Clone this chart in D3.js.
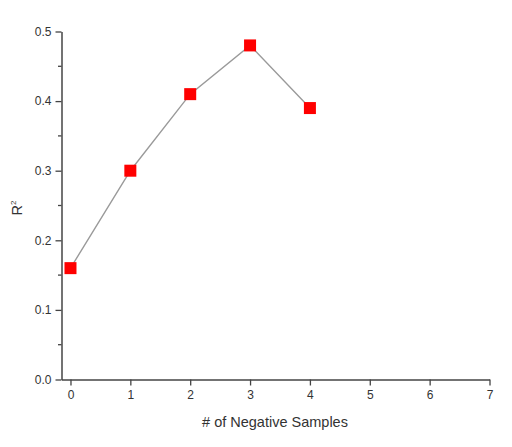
<meta charset="utf-8">
<title>R2 vs negative samples</title>
<script src="https://d3js.org/d3.v7.min.js"></script>
<style>
  body { margin: 0; background: #fff; }
  svg text { font-family: Arial, "Liberation Sans", sans-serif; fill: #333; }
</style>
<body>
<svg width="512" height="447"></svg>
<script>
  const samples = [0, 1, 2, 3, 4]
  const r2 = [0.16, 0.30, 0.41, 0.48, 0.39]
  const xTicks = [0, 1, 2, 3, 4, 5, 6, 7]
  const yTicks = [0.0, 0.1, 0.2, 0.3, 0.4, 0.5]
  const yMinor = [0.05, 0.15, 0.25, 0.35, 0.45]

  const svg = d3.select('svg')
  const x = d3.scaleLinear().domain([-0.15, 7]).range([61.5, 489.5])
  const y = d3.scaleLinear().domain([0, 0.5]).range([379.5, 31.5])

  const axisColor = '#444'

  // x axis
  const gx = svg.append('g').attr('transform', 'translate(0,379.5)')
    .call(d3.axisBottom(x).tickValues(xTicks).tickSize(6).tickPadding(5).tickSizeOuter(0).tickFormat(d3.format('d')))
  gx.select('.domain').attr('stroke', axisColor).attr('stroke-width', 1.5)
  gx.selectAll('.tick line').attr('stroke', axisColor).attr('stroke-width', 1.3)
  gx.selectAll('.tick text').attr('font-size', 12).attr('fill', '#333')

  // y axis
  const gy = svg.append('g').attr('transform', 'translate(61.5,0)')
    .call(d3.axisLeft(y).tickValues(yTicks).tickSize(6).tickPadding(4).tickSizeOuter(0).tickFormat(d3.format('.1f')))
  gy.select('.domain').attr('stroke', axisColor).attr('stroke-width', 1.5)
  gy.selectAll('.tick line').attr('stroke', axisColor).attr('stroke-width', 1.3)
  gy.selectAll('.tick text').attr('font-size', 12).attr('fill', '#333')

  gy.selectAll('.minor').data(yMinor).join('line')
    .attr('x1', -3.5).attr('x2', 0)
    .attr('y1', d => y(d)).attr('y2', d => y(d))
    .attr('stroke', axisColor).attr('stroke-width', 1.3)

  // line + markers
  const pts = samples.map((s, i) => [s, r2[i]])
  svg.append('path')
    .attr('fill', 'none')
    .attr('stroke', '#9a9a9a')
    .attr('stroke-width', 1.4)
    .attr('d', d3.line().x(d => x(d[0])).y(d => y(d[1]))(pts))

  const size = 12
  svg.selectAll('.pt').data(pts).join('rect')
    .attr('x', d => x(d[0]) - size / 2)
    .attr('y', d => y(d[1]) - size / 2)
    .attr('width', size).attr('height', size)
    .attr('fill', '#ff0000')

  // labels
  svg.append('text')
    .attr('x', 275).attr('y', 427)
    .attr('text-anchor', 'middle')
    .attr('font-size', 14.5)
    .text('# of Negative Samples')

  const yl = svg.append('text')
    .attr('transform', 'translate(22,208) rotate(-90)')
    .attr('text-anchor', 'middle')
    .attr('font-size', 14.5)
  yl.append('tspan').text('R')
  yl.append('tspan').attr('font-size', 8).attr('dy', -6).text('2')
</script>
</body>
